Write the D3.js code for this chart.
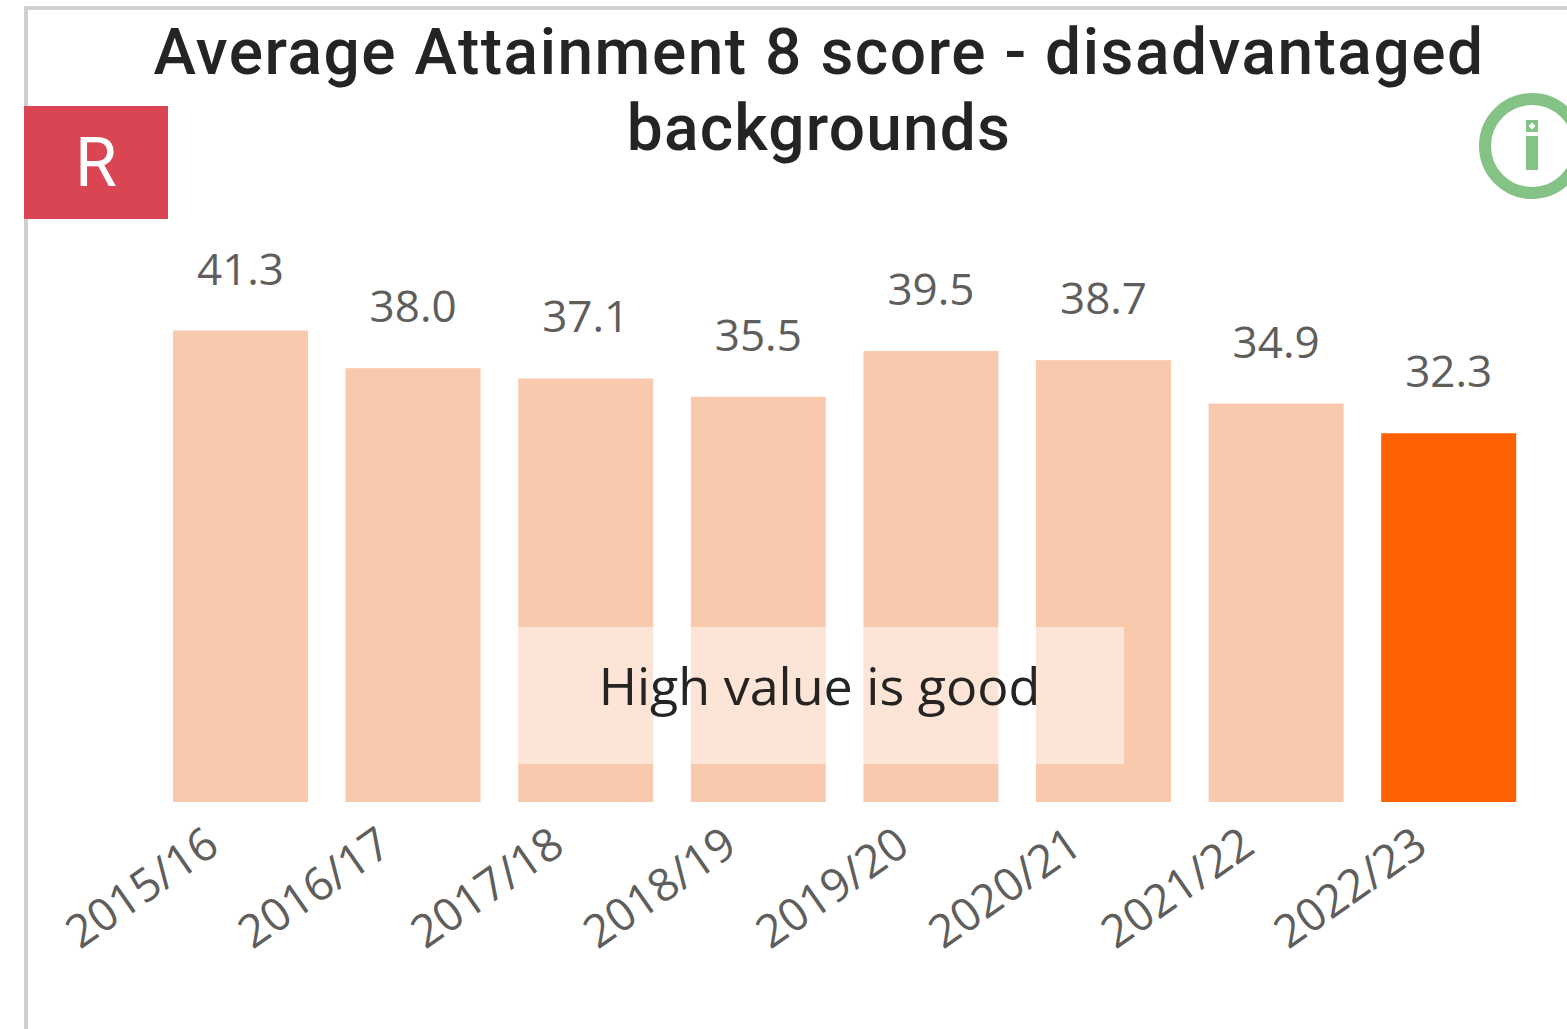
<!DOCTYPE html>
<html><head><meta charset="utf-8">
<script src="https://cdn.jsdelivr.net/npm/d3@7"></script>
<style>html,body{margin:0;padding:0;background:#fff;overflow:hidden}svg{display:block}</style>
</head><body><svg id="c" width="1567" height="1029"></svg>
<script>
const categories = ["2015/16","2016/17","2017/18","2018/19","2019/20","2020/21","2021/22","2022/23"];
const seriesValues = [41.3,38.0,37.1,35.5,39.5,38.7,34.9,32.3];
const titleLines = ["Average Attainment 8 score - disadvantaged","backgrounds"];
const note = "High value is good";
const badge = "R";

const svg = d3.select("#c");
const x = d3.scaleBand().domain(categories).range([154.2,1535]).paddingInner(0.218).paddingOuter(0.109);
const y = d3.scaleLinear().domain([0,41.3]).range([802,330.5]);

// frame
svg.append("rect").attr("x",24).attr("y",6).attr("width",1543).attr("height",4).attr("fill","#cfcfcf");
svg.append("rect").attr("x",24).attr("y",6).attr("width",4).attr("height",1023).attr("fill","#cfcfcf");

// title
const labelFont = "'Open Sans','Noto Sans',sans-serif";
svg.append("g").selectAll("text").data(titleLines).join("text")
  .attr("x",819).attr("y",(d,i)=>74+i*76).attr("text-anchor","middle")
  .attr("font-family","Roboto,sans-serif").attr("font-size",64).attr("font-weight",500)
  .attr("letter-spacing",(d,i)=>i===0?1.52:1.2).attr("fill","#252423")
  .text(d=>d);

// badge
svg.append("rect").attr("x",24).attr("y",106).attr("width",144).attr("height",113).attr("fill","#d94552");
svg.append("text").attr("x",96).attr("y",186).attr("text-anchor","middle")
  .attr("font-family","Roboto,sans-serif").attr("font-size",68).attr("fill","#fff").text(badge);

// info icon
svg.append("circle").attr("cx",1532).attr("cy",146).attr("r",47).attr("fill","none").attr("stroke","#85c285").attr("stroke-width",12);
svg.append("rect").attr("x",1526).attr("y",120).attr("width",12).attr("height",12).attr("fill","#85c285");
svg.append("path").attr("d","M1532 122.5L1535.5 126L1532 129.5L1528.5 126Z").attr("fill","#fff");
svg.append("rect").attr("x",1526).attr("y",136).attr("width",12).attr("height",34).attr("fill","#85c285");

// bars
svg.append("g").selectAll("rect").data(categories).join("rect")
  .attr("x",d=>x(d)).attr("width",x.bandwidth())
  .attr("y",(d,i)=>y(seriesValues[i])).attr("height",(d,i)=>y(0)-y(seriesValues[i]))
  .attr("fill",(d,i)=>i===categories.length-1?"#ff6000":"#f9c9ae");

// value labels
svg.append("g").selectAll("text").data(categories).join("text")
  .attr("x",d=>x(d)+x.bandwidth()/2).attr("y",(d,i)=>y(seriesValues[i])-46)
  .attr("text-anchor","middle").attr("font-family",labelFont).attr("font-size",44).attr("fill","#605e5c")
  .text((d,i)=>seriesValues[i].toFixed(1));

// axis
const axis = svg.append("g").attr("transform","translate(0,802)").call(d3.axisBottom(x).tickSize(0).tickPadding(0));
axis.select(".domain").remove();
axis.selectAll("text").attr("font-family",labelFont).attr("font-size",45.5).attr("fill","#605e5c")
  .attr("text-anchor","end").attr("dy",0)
  .attr("transform","translate(-19,49) rotate(-35)");

// note
svg.append("rect").attr("x",514).attr("y",627).attr("width",610).attr("height",137).attr("fill","#fff").attr("fill-opacity",0.5);
svg.append("text").attr("x",819.5).attr("y",705).attr("text-anchor","middle")
  .attr("font-family",labelFont).attr("font-size",52).attr("fill","#252423").text(note);
</script></body></html>
